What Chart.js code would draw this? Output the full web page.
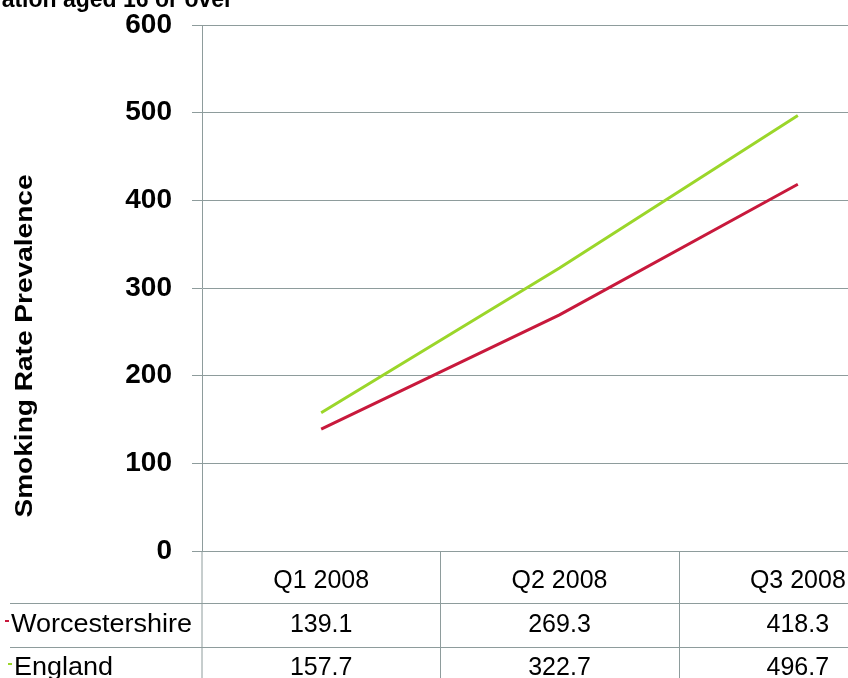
<!DOCTYPE html>
<html>
<head>
<meta charset="utf-8">
<script src="https://cdn.jsdelivr.net/npm/chart.js@4"></script>
<style>
  html, body { margin: 0; padding: 0; overflow: hidden; background: #fff; }
  #wrap { position: relative; width: 920px; height: 678px; }
</style>
</head>
<body>
<div id="wrap"><canvas id="chart"></canvas></div>
<script>
const quarters = ['Q1 2008', 'Q2 2008', 'Q3 2008'];
const worcestershire = [139.1, 269.3, 418.3];
const england = [157.7, 322.7, 496.7];
const yTicks = [0, 100, 200, 300, 400, 500, 600];

const seriesNames = ['Worcestershire', 'England'];
const seriesColors = ['#c8193c', '#9bd62a'];
const gridColor = '#8e9c9c';
const font = '"Liberation Sans", Arial, sans-serif';

// draws the clipped heading, the rotated axis title and the data table
const extrasPlugin = {
    id: 'extras',
    afterDraw(chart) {
        const ctx = chart.ctx;
        const area = chart.chartArea;
        const x = chart.scales.x;
        const bottom = chart.height;

        ctx.save();

        // heading, mostly above the visible area
        ctx.fillStyle = '#000';
        ctx.font = 'bold 23px ' + font;
        ctx.textAlign = 'right';
        ctx.textBaseline = 'alphabetic';
        ctx.fillText('Smoking prevalence per 100,000 population aged 16 or over', 233, 7);

        // y axis title
        ctx.save();
        ctx.translate(26, 346);
        ctx.rotate(-Math.PI / 2);
        ctx.scale(1.22, 1);
        ctx.font = 'bold 23px ' + font;
        ctx.textAlign = 'center';
        ctx.textBaseline = 'middle';
        ctx.fillText('Smoking Rate Prevalence', 0, 0);
        ctx.restore();

        // table grid
        const rowTops = [603, 647];
        ctx.strokeStyle = gridColor;
        ctx.lineWidth = 1;
        ctx.beginPath();
        const bounds = [area.left];
        for (let i = 0; i < quarters.length - 1; i++) {
            bounds.push(Math.round((x.getPixelForValue(i) + x.getPixelForValue(i + 1)) / 2) + 0.5);
        }
        bounds.forEach(b => {
            ctx.moveTo(b, area.bottom);
            ctx.lineTo(b, bottom);
        });
        rowTops.forEach(t => {
            ctx.moveTo(10, t + 0.5);
            ctx.lineTo(chart.width, t + 0.5);
        });
        ctx.stroke();

        // table rows
        const rows = [worcestershire, england];
        const labelX = [11, 14];
        const rowMid = [625, 668];
        rows.forEach((vals, r) => {
            ctx.strokeStyle = seriesColors[r];
            ctx.lineWidth = 2;
            ctx.beginPath();
            ctx.moveTo(labelX[r] - 6, rowMid[r] - 4);
            ctx.lineTo(labelX[r] - 2, rowMid[r] - 4);
            ctx.stroke();

            ctx.fillStyle = '#000';
            ctx.font = '25px ' + font;
            ctx.textBaseline = 'middle';
            ctx.textAlign = 'left';
            ctx.save();
            ctx.translate(labelX[r], rowMid[r]);
            ctx.scale(1.08, 1);
            ctx.fillText(seriesNames[r], 0, 0);
            ctx.restore();

            ctx.textAlign = 'center';
            vals.forEach((v, i) => {
                ctx.fillText(v.toFixed(1), x.getPixelForValue(i), rowMid[r]);
            });
        });

        ctx.restore();
    }
};

new Chart(document.getElementById('chart'), {
    type: 'line',
    data: {
        labels: quarters,
        datasets: [
            {
                label: seriesNames[0],
                data: worcestershire,
                borderColor: seriesColors[0],
                borderWidth: 3,
                pointRadius: 0,
                tension: 0
            },
            {
                label: seriesNames[1],
                data: england,
                borderColor: seriesColors[1],
                borderWidth: 3,
                pointRadius: 0,
                tension: 0
            }
        ]
    },
    options: {
        animation: false,
        responsive: true,
        maintainAspectRatio: false,
        layout: { padding: { top: 25, right: 3, left: 0, bottom: 0 } },
        plugins: {
            legend: { display: false },
            tooltip: { enabled: false }
        },
        scales: {
            x: {
                offset: true,
                grid: { display: false, drawTicks: false },
                border: { display: false },
                ticks: {
                    color: '#000',
                    font: { family: font, size: 25 },
                    padding: 15,
                    maxRotation: 0
                },
                afterFit: s => { s.height = 127; }
            },
            y: {
                min: 0,
                max: 600,
                afterBuildTicks: s => { s.ticks = yTicks.map(v => ({ value: v })); },
                grid: { color: gridColor, tickLength: 10, lineWidth: 1 },
                border: { color: gridColor },
                ticks: {
                    color: '#000',
                    font: { family: font, size: 28, weight: 'bold' },
                    padding: 20
                },
                afterFit: s => {
                    s.width = 202;
                    s.paddingTop = 0;
                    s.paddingBottom = 0;
                }
            }
        }
    },
    plugins: [extrasPlugin]
});
</script>
</body>
</html>
